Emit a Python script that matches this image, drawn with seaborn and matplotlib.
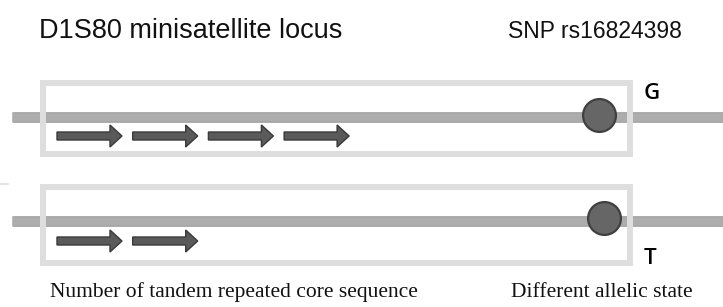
"""
Diagram of the D1S80 minisatellite locus and SNP rs16824398:
two alleles, each with a count of tandem repeats and an allelic state.
"""

import matplotlib
matplotlib.use('Agg')
import matplotlib.pyplot as plt
import matplotlib.patheffects as pe
from matplotlib.patches import Rectangle, FancyArrow
import pandas as pd
import seaborn as sns

# data
alleles = ['G', 'T']
repeat_counts = [4, 2]
snp_offset = [-31, -26]          # SNP position relative to box right edge
titles = ['D1S80 minisatellite locus', 'SNP rs16824398']
captions = ['Number of tandem repeated core sequence',
            'Different allelic state']

# layout (pixel space of a 723 x 307 canvas)
W, H = 723, 307
row_line_y = [117, 221]
row_box = [(43, 83, 587, 71), (43, 187, 587, 76)]
arrow_y = [136, 241]
label_baseline = [99, 264]
arrow_x0, arrow_len, arrow_step = 57, 66, 75.7


def draw_row(ax, i):
    line_y = row_line_y[i]
    x0, y0, w, h = row_box[i]

    # backbone
    ax.plot([12, W], [line_y, line_y], color='#adadad', lw=6.2,
            solid_capstyle='butt', zorder=1,
            path_effects=[pe.Stroke(linewidth=7.6, foreground='#969696'),
                          pe.Normal()])

    # locus box
    ax.add_patch(Rectangle((x0, y0), w, h, fill=False, ec='#dedede',
                           lw=4.3, zorder=2))

    # tandem repeats
    for k in range(repeat_counts[i]):
        xs = arrow_x0 + k * arrow_step
        ax.add_patch(FancyArrow(xs, arrow_y[i], arrow_len - 1, 0, width=8,
                                head_width=22, head_length=12,
                                length_includes_head=True, fc='#5a5a5a',
                                ec='#3a3a3a', lw=1.0, zorder=3))

    # allele label
    ax.text(644, label_baseline[i], alleles[i], fontsize=16,
            fontweight='semibold', family='Open Sans', va='baseline',
            ha='left', color='black')


def main():
    sns.set_style('white')
    plt.rcParams['font.family'] = ['Liberation Sans', 'DejaVu Sans']

    fig = plt.figure(figsize=(7.23, 3.07), dpi=100)
    ax = fig.add_axes([0, 0, 1, 1])

    for i in range(len(alleles)):
        draw_row(ax, i)

    snp = pd.DataFrame({
        'x': [row_box[i][0] + row_box[i][2] + snp_offset[i]
              for i in range(len(alleles))],
        'y': [row_line_y[0] - 2, row_line_y[1] - 3],
        'allele': alleles,
    })
    sns.scatterplot(data=snp, x='x', y='y', s=560, color='#666666',
                    edgecolor='#404040', linewidth=1.6, zorder=4, ax=ax,
                    legend=False)
    ax.set_xlim(0, W)
    ax.set_ylim(H, 0)
    ax.axis('off')

    # faint stub at the left edge
    ax.plot([0, 8], [184, 184], color='#e4e4e4', lw=1.5, zorder=1)

    ax.text(39, 38, titles[0], fontsize=19.5, va='baseline', ha='left',
            color='#111111')
    ax.text(508, 38, titles[1], fontsize=16.5, va='baseline', ha='left',
            color='#111111')

    ax.text(50, 297, captions[0], fontsize=15.5, va='baseline', ha='left',
            family='Liberation Serif', color='#111111')
    ax.text(511, 297, captions[1], fontsize=15.5, va='baseline', ha='left',
            family='Liberation Serif', color='#111111')

    fig.savefig('out.png', dpi=100)


if __name__ == '__main__':
    main()
